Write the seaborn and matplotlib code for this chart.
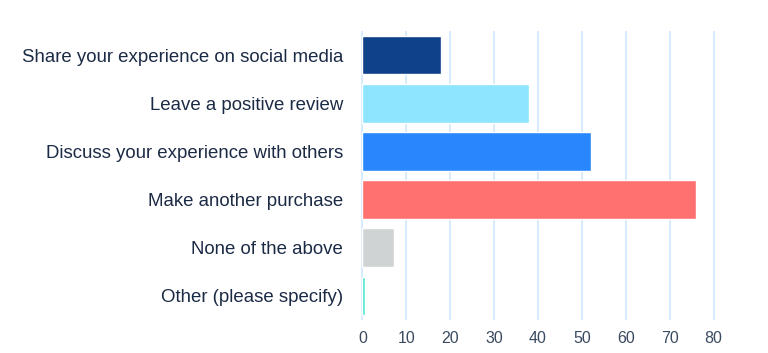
import matplotlib
matplotlib.use("Agg")
import matplotlib.pyplot as plt
import seaborn as sns
import pandas as pd

categories = [
    "Share your experience on social media",
    "Leave a positive review",
    "Discuss your experience with others",
    "Make another purchase",
    "None of the above",
    "Other (please specify)",
]
values = [18, 38, 52, 76, 7.2, 0.6]
colors = ["#0F408A", "#8EE5FF", "#2A86FC", "#FF7171", "#D0D3D4", "#4EE6D0"]
x_ticks = [0, 10, 20, 30, 40, 50, 60, 70, 80]

sns.set_style("white")
plt.rcParams["font.family"] = ["Liberation Sans", "DejaVu Sans"]

df = pd.DataFrame({"answer": categories, "count": values})

fig = plt.figure(figsize=(7.68, 3.53), dpi=100)
ax = fig.add_axes([361 / 768, 33 / 353, 357 / 768, 289 / 353])

sns.barplot(data=df, x="count", y="answer", hue="answer", palette=colors,
            order=categories, legend=False, width=0.8, saturation=1,
            ax=ax, zorder=3)

ax.set_xlim(-0.3, 81)
ax.set_ylim(5.5, -0.5)
ax.set_xticks(x_ticks)
ax.xaxis.grid(True, color="#cfe8ff", linewidth=1.2, zorder=0)
ax.yaxis.grid(False)
for s in ax.spines.values():
    s.set_visible(False)

ax.set_xlabel("")
ax.set_ylabel("")
ax.tick_params(axis="y", length=0, pad=13, labelsize=13.4, labelcolor="#1c2b45")
ax.tick_params(axis="x", length=0, pad=8, labelsize=11.5, labelcolor="#3a4a60")

fig.savefig("out.png", dpi=100)
